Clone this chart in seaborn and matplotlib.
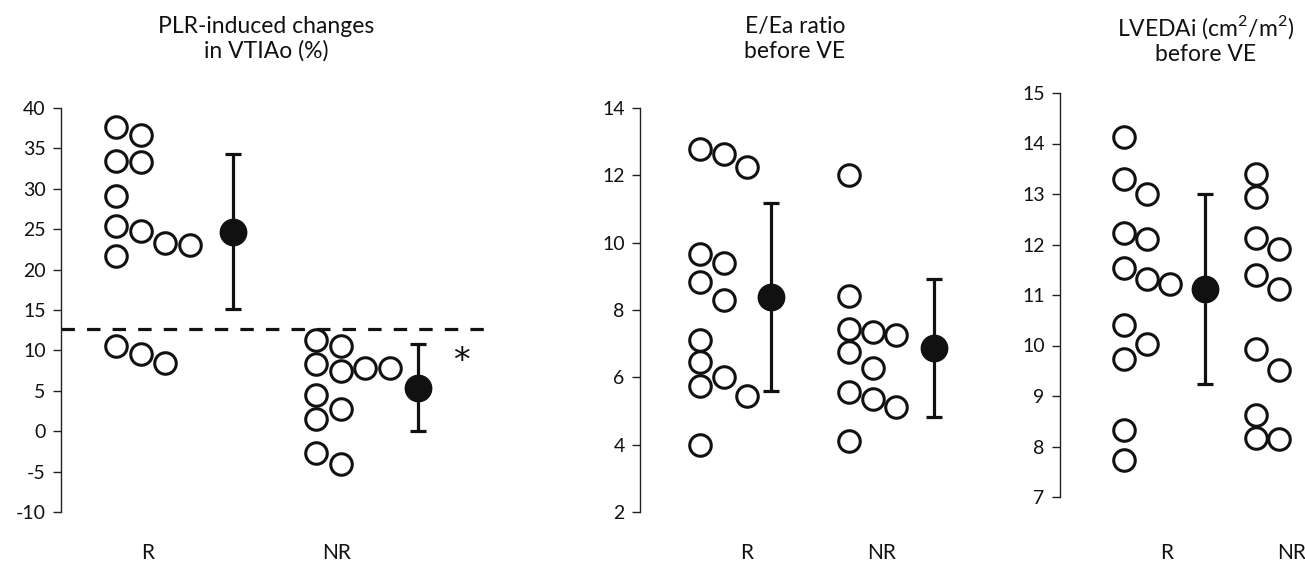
import numpy as np
import pandas as pd
import matplotlib
matplotlib.use("Agg")
import matplotlib.pyplot as plt
import seaborn as sns

# values
vti_R = [37.7, 36.6, 33.5, 33.3, 29.1, 25.4, 24.8, 23.3, 23.0, 21.7, 10.5, 9.6, 8.5]
vti_NR = [11.3, 10.5, 8.3, 7.4, 7.8, 7.8, 4.5, 2.7, 1.5, -2.7, -4.1]
vti_mean = [24.7, 5.4]
vti_sd = [9.6, 5.4]
vti_cutoff = 12.7

eea_R = [12.63, 12.79, 12.25, 9.67, 9.40, 8.83, 8.29, 7.12, 6.45, 6.01, 5.73, 5.44, 4.0]
eea_NR = [12.02, 8.41, 7.45, 7.27, 7.35, 6.75, 6.28, 5.55, 5.36, 5.12, 4.10]
eea_mean = [8.39, 6.87]
eea_sd = [2.8, 2.06]

lvedai_R = [14.12, 13.30, 13.0, 12.23, 12.10, 11.54, 11.32, 11.22, 10.40, 10.02, 9.73, 8.32, 7.73]
lvedai_NR = [13.40, 12.94, 12.12, 11.92, 11.40, 11.11, 9.94, 9.51, 8.63, 8.14, 8.17]
lvedai_mean = [11.12]
lvedai_sd = [1.88]

groups = ["R", "NR"]

sns.set_theme(style="white")
plt.rcParams["font.family"] = ["Lato", "DejaVu Sans"]
plt.rcParams["mathtext.fontset"] = "custom"
plt.rcParams["mathtext.rm"] = "Lato"
plt.rcParams["axes.unicode_minus"] = False

W, H = 1305, 561
fig = plt.figure(figsize=(W / 100, H / 100), dpi=100)


def one_sided_columns(values, diam):
    # greedy packing: each point goes to the first column where it does not overlap
    vals = np.asarray(values, float)
    cols = np.zeros(len(vals), int)
    placed = []
    for i in np.argsort(-vals, kind="stable"):
        c = 0
        while True:
            if c >= len(placed):
                placed.append([])
            if all(abs(vals[i] - v) >= diam for v in placed[c]):
                break
            c += 1
        placed[c].append(vals[i])
        cols[i] = c
    return cols


def make_panel(left, top, width, ylim, yticks, series, means, sds,
               starts, step, mean_x, label_x, label_pad, title, title_x):
    # left/top/width in pixels, axis height follows the y tick range
    h = 404
    ax = fig.add_axes([left / W, 1 - (top + h) / H, width / W, h / H])
    ax.set_xlim(0, width)
    ax.set_ylim(*ylim)
    diam = 22.5 * (ylim[1] - ylim[0]) / h

    frames = []
    for g, vals, x0 in zip(groups, series, starts):
        cols = one_sided_columns(vals, diam)
        frames.append(pd.DataFrame({"group": g, "value": vals, "x": x0 + cols * step}))
    df = pd.concat(frames)
    sns.scatterplot(data=df, x="x", y="value", ax=ax, s=240, marker="o",
                    facecolor="white", edgecolor="#111111", linewidth=2.2,
                    legend=False, zorder=3)

    for m, sd, mx in zip(means, sds, mean_x):
        ax.errorbar([mx], [m], yerr=[sd], fmt="o", color="#111111", ms=19,
                    elinewidth=2.3, capsize=6, capthick=2.3, zorder=4, clip_on=False)

    ax.set_yticks(yticks)
    ax.set_xticks(label_x, groups)
    ax.set_xlabel("")
    ax.set_ylabel("")
    ax.tick_params(axis="y", length=6, width=1, color="#222222", labelsize=14,
                   pad=5, left=True, labelcolor="#111111")
    ax.tick_params(axis="x", length=0, labelsize=15, pad=label_pad, labelcolor="#111111")
    for s in ["top", "right", "bottom"]:
        ax.spines[s].set_visible(False)
    ax.spines["left"].set_color("#222222")
    ax.spines["left"].set_linewidth(1.0)
    ax.grid(False)
    fig.text(title_x / W, 1 - 39 / H, title, ha="center", va="center",
             fontsize=16.5, linespacing=1.2, color="#111111")
    return ax


ax1 = make_panel(61, 108, 429, (-10, 40), range(-10, 41, 5), [vti_R, vti_NR],
                 vti_mean, vti_sd, [55, 255], 24.5, [172, 357], [87, 276], 22,
                 "PLR-induced changes\nin VTIAo (%)", 266)
ax1.plot([0, 427], [vti_cutoff, vti_cutoff], ls=(0, (4.2, 3.8)), color="#111111",
         lw=2.3, zorder=2)
ax1.text(400, 8.6, "*", ha="center", va="center", fontsize=24, color="#111111",
         family="DejaVu Sans")

make_panel(640, 108, 320, (2, 14), range(2, 15, 2), [eea_R, eea_NR],
           eea_mean, eea_sd, [60, 209], 23.5, [131, 294], [107, 242], 22,
           "E/Ea ratio\nbefore VE", 795)

make_panel(1060, 93, 245, (7, 15), range(7, 16), [lvedai_R, lvedai_NR],
           lvedai_mean, lvedai_sd, [64, 196], 23, [145], [107, 232], 33,
           "LVEDAi (cm$^\\mathrm{2}$/m$^\\mathrm{2}$)\nbefore VE", 1206)

fig.savefig("out.png", dpi=100)
